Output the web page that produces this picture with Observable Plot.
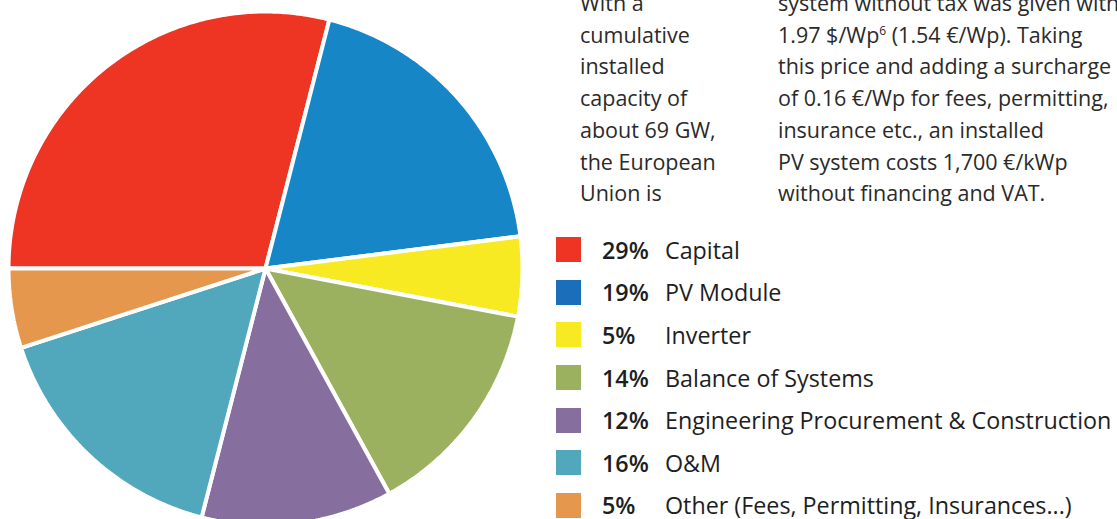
<!DOCTYPE html>
<html>
<head>
<meta charset="utf-8">
<script src="https://cdn.jsdelivr.net/npm/d3@7"></script>
<script src="https://cdn.jsdelivr.net/npm/@observablehq/plot@0.6"></script>
<style>
  html, body { margin: 0; padding: 0; background: #fff; }
  #wrap { position: relative; width: 1117px; height: 519px; overflow: hidden; font-family: "Open Sans", sans-serif; color: #222; }
  #chart { position: absolute; left: 0; top: 0; }
  .col { position: absolute; font-size: 21.5px; line-height: 31.7px; white-space: nowrap; color: #2a2a2a; }
  .col sup { font-size: 12px; vertical-align: 8px; line-height: 0; }
  #legend { position: absolute; left: 556px; top: 228.5px; }
  .row { display: flex; align-items: center; height: 42.6px; white-space: nowrap; font-size: 23.3px; color: #1e1e1e; }
  .sw { width: 25px; height: 25px; margin-right: 21px; flex: none; }
  .pct { width: 63px; font-weight: 600; }
</style>
</head>
<body>
<div id="wrap">
  <div id="chart"></div>
  <div class="col" id="leftCol" style="left:580px; top:-13px;"></div>
  <div class="col" id="rightCol" style="left:778px; top:-13px;"></div>
  <div id="legend"></div>
</div>
<script>
// Data
const categories = ["Capital", "PV Module", "Inverter", "Balance of Systems", "Engineering Procurement & Construction", "O&M", "Other (Fees, Permitting, Insurances...)"];
const shares = [29, 19, 5, 14, 12, 16, 5];
const pieColors = ["#ee3524", "#1686c7", "#f7ea22", "#9cb15f", "#866f9f", "#51a7bc", "#e4974d"];
const legendColors = ["#ee3524", "#1b6fba", "#f7ea22", "#9cb15f", "#866f9f", "#51a7bc", "#e4974d"];
const leftText = ["With a", "cumulative", "installed", "capacity of", "about 69 GW,", "the European", "Union is"];
const rightText = ["system without tax was given with", "1.97 $/Wp<sup>6</sup> (1.54 €/Wp). Taking", "this price and adding a surcharge", "of 0.16 €/Wp for fees, permitting,", "insurance etc., an installed", "PV system costs 1,700 €/kWp", "without financing and VAT."];

// Pie geometry from data (start at 9 o'clock, clockwise)
const arcs = d3.pie().sort(null).startAngle(-Math.PI / 2).endAngle(3 * Math.PI / 2)(shares);
const pts = [];
arcs.forEach((a, i) => {
  const name = categories[i];
  pts.push({name, x: 0, y: 0});
  const n = Math.max(8, Math.ceil((a.endAngle - a.startAngle) / 0.01));
  for (let k = 0; k <= n; k++) {
    const t = a.startAngle + (a.endAngle - a.startAngle) * k / n;
    pts.push({name, x: Math.sin(t), y: Math.cos(t)});
  }
  pts.push({name, x: 0, y: 0});
});

const plot = Plot.plot({
  width: 540,
  height: 519,
  margin: 0,
  x: {domain: [-1, 1], range: [8, 522], axis: null},
  y: {domain: [-1, 1], range: [525, 11], axis: null},
  color: {domain: categories, range: pieColors},
  style: {background: "transparent", overflow: "hidden"},
  marks: [
    Plot.line(pts, {x: "x", y: "y", z: "name", fill: "name", stroke: "white", strokeWidth: 4, strokeLinejoin: "miter", curve: "linear"})
  ]
});
document.getElementById("chart").appendChild(plot);

document.getElementById("leftCol").innerHTML = leftText.map(s => `<div>${s}</div>`).join("");
document.getElementById("rightCol").innerHTML = rightText.map(s => `<div>${s}</div>`).join("");
document.getElementById("legend").innerHTML = categories.map((c, i) =>
  `<div class="row"><div class="sw" style="background:${legendColors[i]}"></div><span class="pct">${shares[i]}%</span><span>${c}</span></div>`
).join("");
</script>
</body>
</html>
